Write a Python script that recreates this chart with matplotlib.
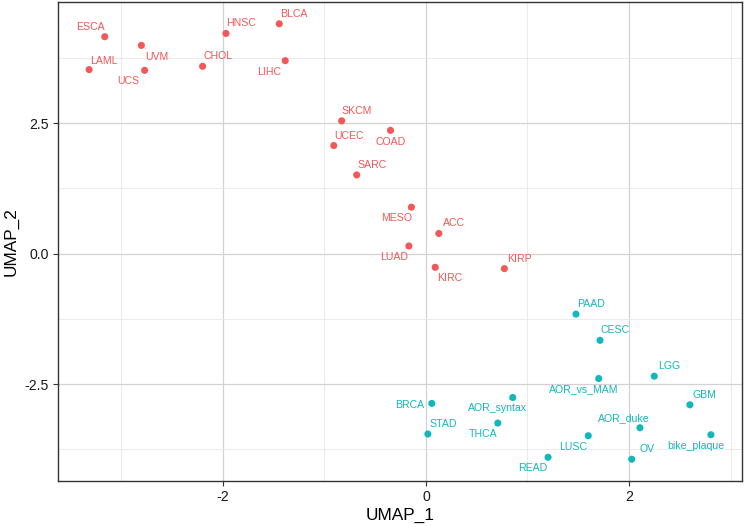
import matplotlib
matplotlib.use("Agg")
import matplotlib.pyplot as plt
from matplotlib.ticker import FixedLocator

# ---- data ----
group1_names = ["ESCA", "UVM", "LAML", "UCS", "CHOL", "HNSC", "BLCA", "LIHC",
                "SKCM", "UCEC", "COAD", "SARC", "MESO", "ACC", "LUAD", "KIRC", "KIRP"]
group1_x = [-3.164, -2.803, -3.318, -2.771, -2.200, -1.970, -1.445, -1.386,
            -0.830, -0.908, -0.349, -0.682, -0.143, 0.127, -0.168, 0.091, 0.773]
group1_y = [4.155, 3.989, 3.525, 3.511, 3.588, 4.218, 4.403, 3.697,
            2.544, 2.071, 2.361, 1.508, 0.891, 0.387, 0.147, -0.261, -0.286]

group2_names = ["PAAD", "CESC", "LGG", "AOR_vs_MAM", "GBM", "BRCA", "AOR_syntax",
                "STAD", "THCA", "AOR_duke", "bike_plaque", "LUSC", "OV", "READ"]
group2_x = [1.478, 1.715, 2.249, 1.702, 2.600, 0.058, 0.855,
            0.019, 0.708, 2.108, 2.807, 1.599, 2.027, 1.203]
group2_y = [-1.158, -1.660, -2.347, -2.391, -2.895, -2.868, -2.754,
            -3.454, -3.244, -3.334, -3.468, -3.487, -3.937, -3.899]

# label placement offsets (pixels, x right / y up) -- layout only
group1_dx = [-14, 16, 15, -16, 15, 15, 15, -16, 15, 15, 0, 15, -15, 15, -15, 15, 15]
group1_dy = [10, -12, 9, -11, 10, 10, 10, -11, 10, 10, -12, 10, -11, 10, -11, -11, 10]
group2_dx = [15, 15, 15, -15, 15, -22, -15, 15, -15, -16, -15, -15, 15, -15]
group2_dy = [10, 10, 10, -11, 10, -2, -11, 10, -11, 10, -11, -11, 10, -11]

x_ticks = [-2, 0, 2]
y_ticks = [-2.5, 0.0, 2.5]
x_label = "UMAP_1"
y_label = "UMAP_2"

col1 = "#F35757"
col2 = "#12B7BC"

plt.rcParams['font.family'] = ['Liberation Sans', 'DejaVu Sans']

fig = plt.figure(figsize=(7.44, 5.27), dpi=100)
ax = fig.add_axes([58/744, 1-481/527, (742-58)/744, (481-2)/527])

def draw(xs, ys, names, dxs, dys, col):
    ax.scatter(xs, ys, s=26, color=col, edgecolors='none', zorder=3)
    for x, y, n, dx, dy in zip(xs, ys, names, dxs, dys):
        ax.annotate(n, xy=(x, y), xytext=(dx, dy), textcoords='offset pixels',
                    ha='center', va='center', fontsize=7.6, color=col, zorder=4,
                    arrowprops=dict(arrowstyle='-', color=col, lw=0.5, alpha=0.6,
                                    shrinkA=1, shrinkB=3))

draw(group1_x, group1_y, group1_names, group1_dx, group1_dy, col1)
draw(group2_x, group2_y, group2_names, group2_dx, group2_dy, col2)

# ggplot-style expanded limits
def expand(vals):
    lo, hi = min(vals), max(vals)
    r = hi - lo
    return lo - 0.05 * r, hi + 0.05 * r

ax.set_xlim(*expand(group1_x + group2_x))
ax.set_ylim(*expand(group1_y + group2_y))

ax.xaxis.set_major_locator(FixedLocator(x_ticks))
ax.yaxis.set_major_locator(FixedLocator(y_ticks))
ax.xaxis.set_minor_locator(FixedLocator([-3, -1, 1, 3]))
ax.yaxis.set_minor_locator(FixedLocator([-3.75, -1.25, 1.25, 3.75]))
ax.set_xticklabels([f"{t:g}" for t in x_ticks])
ax.set_yticklabels([f"{t:.1f}" for t in y_ticks])

ax.grid(which='major', color='#D2D2D2', lw=0.9, zorder=0)
ax.grid(which='minor', color='#E8E8E8', lw=0.6, zorder=0)
ax.set_axisbelow(True)

for s in ax.spines.values():
    s.set_color('#333333')
    s.set_linewidth(1.0)

ax.tick_params(which='major', length=3.5, width=0.8, color='#333333',
               labelsize=10.2, labelcolor='#1A1A1A', pad=3)
ax.tick_params(which='minor', length=0)

ax.set_xlabel(x_label, fontsize=12.4, labelpad=3)
ax.set_ylabel(y_label, fontsize=12.4, labelpad=4)

fig.savefig("out.png", dpi=100, facecolor='white')
